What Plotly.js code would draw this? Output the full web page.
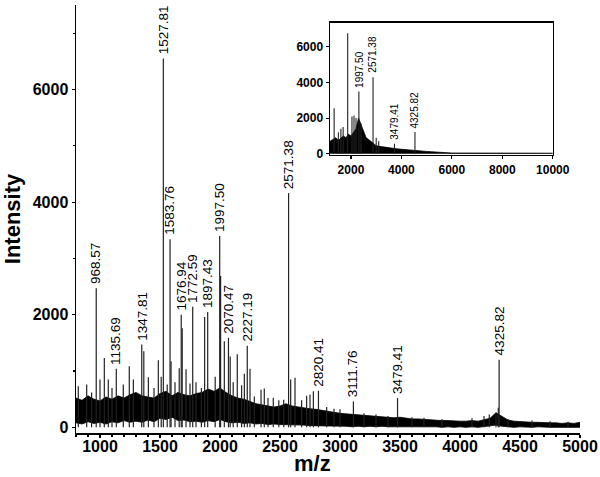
<!DOCTYPE html>
<html>
<head>
<meta charset="utf-8">
<script src="https://cdn.plot.ly/plotly-3.0.1.min.js"></script>
<style>
  html, body { margin: 0; padding: 0; background: #fff; }
  #plot { width: 600px; height: 477px; }
</style>
</head>
<body>
<div id="plot"></div>
<script>
// noise band of the main spectrum, sampled every 50 m/z
const bandMz = [];
for (let m = 800; m <= 5000; m += 50) bandMz.push(m);
const bandTop = [
  520, 480, 560, 500, 470,   540, 500, 560, 520, 580,
  620, 560, 540, 520, 600,   640, 560, 620, 580, 560,
  600, 620, 680, 640, 700,   620, 560, 520, 500, 460,
  420, 400, 380, 360, 380,   420, 380, 360, 340, 330,
  320, 300, 280, 260, 250,   240, 230, 220, 210, 200,
  190, 180, 170, 170, 180,   160, 150, 150, 140, 140,
  130, 120, 120, 110, 110,   110, 120, 110, 130, 160,
  260, 200, 130, 110, 100,   100, 90, 90, 80, 80,
  80, 70, 80, 70, 90
];
const bandBottom = [
  80, 60, 100, 70, 90,   60, 100, 80, 120, 90,
  110, 90, 130, 100, 160,   140, 180, 120, 130, 100,
  110, 90, 120, 100, 140,   100, 80, 90, 70, 80,
  60, 70, 50, 60, 50,   50, 40, 50, 40, 30,
  30, 20, 30, 20, 20,   20, 10, 20, 10, 20,
  10, 20, 10, 10, 20,   10, 10, 20, 10, 10,
  10, 0, 10, 0, 10,   0, 10, 0, 10, 20,
  40, 20, 10, 0, 10,   0, 0, 10, 0, 0,
  0, 0, 10, 0, 0
];

// labelled peaks
const peakLabels = ['968.57', '1135.69', '1347.81', '1527.81', '1583.76', '1676.94', '1772.59', '1897.43',
  '1997.50', '2070.47', '2227.19', '2571.38', '2820.41', '3111.76', '3479.41', '4325.82'];
const peakMz = peakLabels.map(Number);
const peakHeight = [2470, 1040, 1470, 6550, 3340, 2000, 2140, 2050, 3400, 1590, 1450, 4160, 650, 460, 520, 1200];

// unlabelled spikes
const spikeMz = [819, 889, 930, 1000, 1036, 1069, 1100, 1194, 1244, 1278, 1365, 1403, 1450, 1486, 1510, 1560,
  1592, 1625, 1660, 1685, 1717, 1750, 1800, 1845, 1872, 1960, 2005, 2036, 2085, 2110, 2144, 2180, 2203, 2250,
  2286, 2342, 2369, 2400, 2444, 2490, 2531, 2589, 2625, 2680, 2722, 2750, 2778, 2889, 2950, 3000, 3200, 3300,
  3400, 3600, 3700, 3850, 4100, 4200, 4244, 4300, 4319, 4400, 4600, 4750, 4900];
const spikeHeight = [730, 760, 620, 850, 1230, 850, 700, 760, 1085, 850, 1350, 890, 700, 1190, 900, 760,
  1175, 800, 1050, 1760, 1030, 780, 800, 700, 1960, 900, 2690, 1530, 1260, 800, 1300, 750, 950, 1040,
  550, 670, 690, 520, 525, 480, 490, 850, 880, 480, 560, 585, 640, 360, 330, 320, 250, 230,
  200, 180, 170, 150, 160, 200, 230, 260, 350, 150, 120, 110, 100];

// inset: full range spectrum
const insetBandMz = [1170, 1300, 1400, 1500, 1600, 1700, 1800, 1900, 2000, 2100, 2200, 2300, 2400, 2500, 2600,
  2700, 2800, 2900, 3000, 3200, 3400, 3600, 3800, 4000, 4200, 4400, 4600, 4800, 5000, 5200, 5400, 5600, 5800,
  6000, 10000];
const insetBandTop = [700, 800, 900, 750, 850, 1000, 900, 1100, 1000, 1200, 1400, 2000, 1600, 1200, 900,
  800, 700, 600, 450, 400, 350, 300, 280, 250, 220, 180, 160, 150, 130, 110, 90, 70, 50, 40, 30];
const insetPeakMz = [1333, 1500, 1600, 1690, 1870, 2040, 2120, 2200, 2314, 2400, 2875, 3000, 3100, 3725, 4537];
const insetPeakHeight = [2560, 1200, 1400, 1500, 6760, 2090, 2150, 2000, 3490, 1700, 4300, 900, 700, 560, 1215];
const insetLabels = ['1997.50', '2571.38', '3479.41', '4325.82'];
const insetLabelMz = [2314, 2875, 3725, 4537];
const insetLabelHeight = [3490, 4300, 560, 1215];

function stems(xs, ys) {
  const x = [], y = [];
  xs.forEach((m, i) => { x.push(m, m, null); y.push(0, ys[i], null); });
  return { x, y };
}

const main = stems(spikeMz.concat(peakMz), spikeHeight.concat(peakHeight));
const inset = stems(insetPeakMz, insetPeakHeight);

const data = [
  { x: bandMz, y: bandBottom, type: 'scatter', mode: 'lines', line: { color: '#000', width: 0.8 }, hoverinfo: 'skip' },
  { x: bandMz, y: bandTop, type: 'scatter', mode: 'lines', fill: 'tonexty', fillcolor: '#000',
    line: { color: '#000', width: 0.8 }, hoverinfo: 'skip' },
  { x: main.x, y: main.y, type: 'scatter', mode: 'lines', line: { color: '#222', width: 1.2 } },
  { x: insetBandMz, y: insetBandTop, xaxis: 'x2', yaxis: 'y2', type: 'scatter', mode: 'lines',
    fill: 'tozeroy', fillcolor: '#000', line: { color: '#000', width: 0.8 } },
  { x: inset.x, y: inset.y, xaxis: 'x2', yaxis: 'y2', type: 'scatter', mode: 'lines',
    line: { color: '#222', width: 1.1 } },
];

const annotations = peakLabels.map((t, i) => ({
  x: peakMz[i], y: peakHeight[i], text: t, showarrow: false, textangle: -90,
  xanchor: 'center', yanchor: 'bottom', yshift: 2,
  font: { size: 13.5, color: '#000' },
})).concat(insetLabels.map((t, i) => ({
  x: insetLabelMz[i], y: insetLabelHeight[i], xref: 'x2', yref: 'y2', text: t, showarrow: false,
  textangle: -90, xanchor: 'center', yanchor: 'bottom', yshift: 2,
  font: { size: 10, color: '#000' },
}))).concat([{
  // x axis title, set by hand so it sits just under the tick labels
  x: 0.47, y: -0.072, xref: 'paper', yref: 'paper', text: 'm/z', showarrow: false,
  xanchor: 'center', yanchor: 'middle', font: { size: 22, weight: 'bold', color: '#000' },
}]);

const axisBase = {
  showline: true, linecolor: '#000', linewidth: 1.5, showgrid: false, zeroline: false,
  ticks: 'outside', ticklen: 3, tickcolor: '#000', tickwidth: 1.2,
};

const layout = {
  width: 600, height: 477,
  margin: { l: 76, r: 20, t: 5, b: 44 },
  paper_bgcolor: '#fff', plot_bgcolor: '#fff',
  showlegend: false,
  font: { family: '"Liberation Sans", Arial, sans-serif', color: '#000' },
  xaxis: Object.assign({}, axisBase, {
    range: [800, 5000], tick0: 0, dtick: 500, ticklabelstandoff: -5,
    tickfont: { size: 16, weight: 'bold' },
    minor: { dtick: 100, ticks: 'outside', ticklen: 2, tickcolor: '#000' },
  }),
  yaxis: Object.assign({}, axisBase, {
    range: [-100, 7500], tick0: 0, dtick: 2000,
    tickfont: { size: 16, weight: 'bold' },
    minor: { dtick: 1000, ticks: 'outside', ticklen: 2, tickcolor: '#000' },
    title: { text: 'Intensity', font: { size: 22, weight: 'bold' }, standoff: 8 },
  }),
  xaxis2: Object.assign({}, axisBase, {
    domain: [0.504, 0.946], anchor: 'y2', mirror: true, range: [1170, 10000], tick0: 0, dtick: 2000,
    exponentformat: 'none', tickformat: 'd', ticklen: 3, tickfont: { size: 12, weight: 'bold' },
  }),
  yaxis2: Object.assign({}, axisBase, {
    domain: [0.650, 0.958], anchor: 'x2', mirror: true, range: [-60, 7340], tick0: 0, dtick: 2000,
    ticklen: 3, tickfont: { size: 12, weight: 'bold' },
  }),
  annotations,
};

Plotly.newPlot('plot', data, layout, { displayModeBar: false, staticPlot: true });
</script>
</body>
</html>
